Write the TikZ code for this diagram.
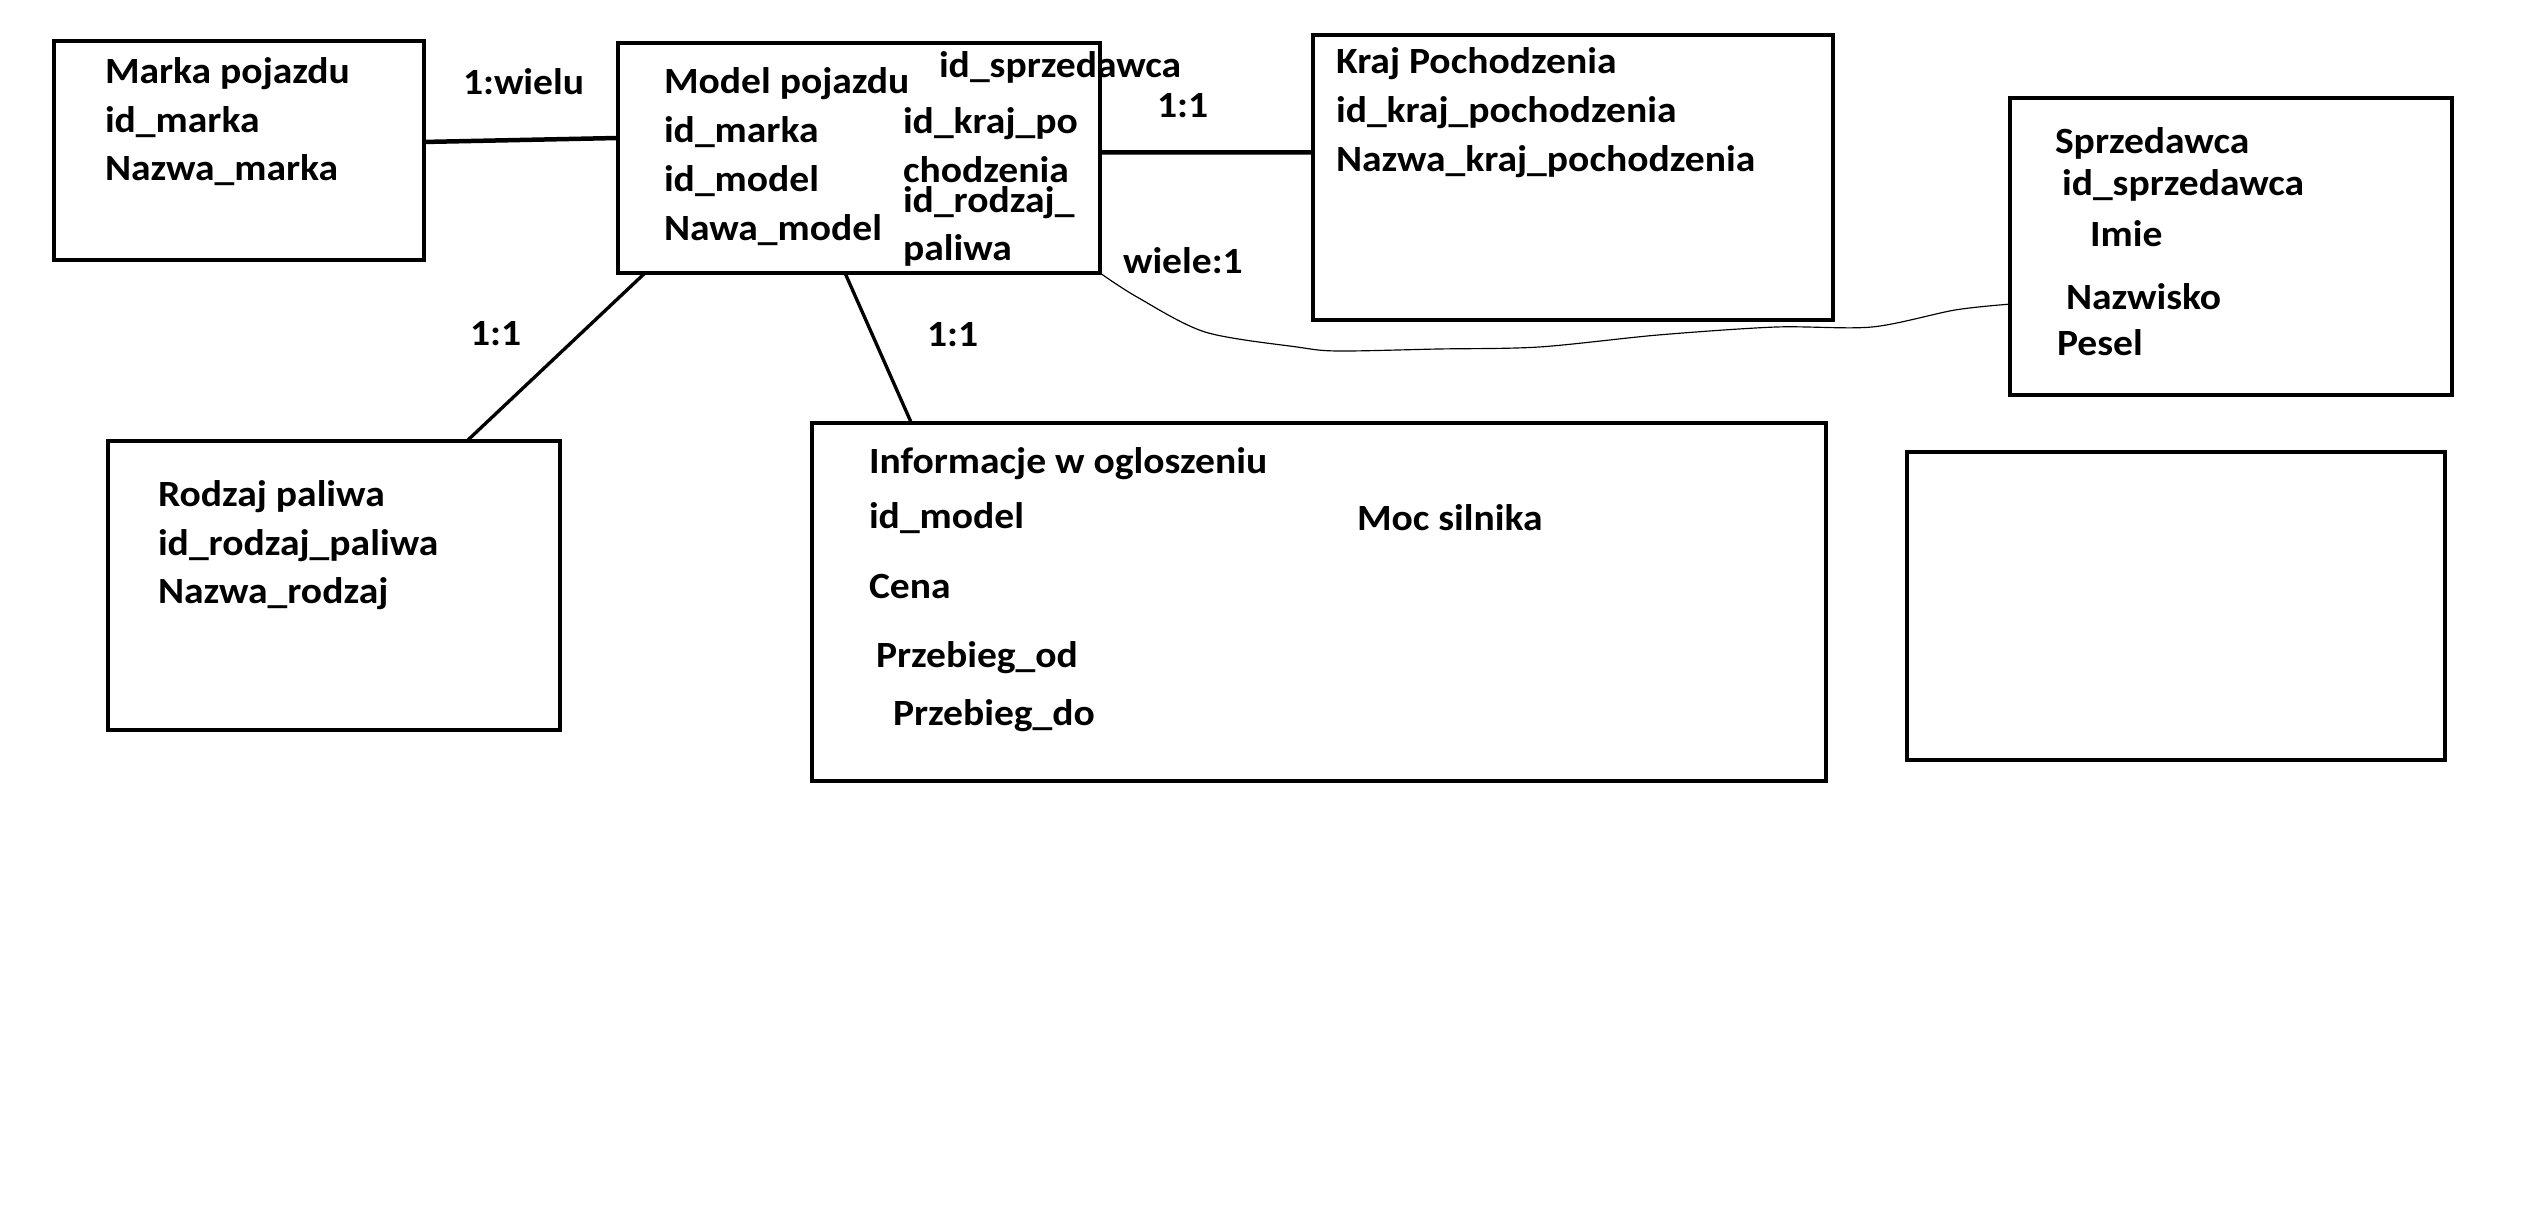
\documentclass[tikz,border=0pt]{standalone}
\usepackage{fontspec}
\setmainfont{Carlito}[FakeStretch=1.07]
\usetikzlibrary{calc}
\newcommand\pxu{0.3pt}
\tikzset{
  box/.style={draw, line width=1.35pt, rectangle, inner sep=0pt, outer sep=0pt},
  txt/.style={anchor=base west, inner sep=0pt, outer sep=0pt, font=\fontsize{11.1pt}{13pt}\selectfont\bfseries},
  heavy/.style={line width=1.35pt},
  medium/.style={line width=1pt},
  fine/.style={line width=0.35pt},
}
\begin{document}
\begin{tikzpicture}[x=0.3pt, y=-0.3pt]
\useasboundingbox (0,0) rectangle (2533,1209);
% boxes
\node[box, minimum width=370*\pxu, minimum height=219*\pxu] (marka) at (239,150.5) {};
\node[box, minimum width=482*\pxu, minimum height=230*\pxu] (model) at (859,158) {};
\node[box, minimum width=520*\pxu, minimum height=285*\pxu] (kraj) at (1573,177.5) {};
\node[box, minimum width=442*\pxu, minimum height=297*\pxu] (sprz) at (2231,246.5) {};
\node[box, minimum width=452*\pxu, minimum height=289*\pxu] (rodzaj) at (334,585.5) {};
\node[box, minimum width=1014*\pxu, minimum height=358*\pxu] (info) at (1319,602) {};
\node[box, minimum width=538*\pxu, minimum height=308*\pxu] (empty) at (2176,606) {};
% Marka
\node[txt] (m1) at (105,83) {Marka pojazdu};
\node[txt] (m2) at (105,132) {id\_marka};
\node[txt] (m3) at (105,180) {Nazwa\_marka};
% Model
\node[txt] (d1) at (664,93) {Model pojazdu};
\node[txt] (d2) at (664,142) {id\_marka};
\node[txt] (d3) at (664,191) {id\_model};
\node[txt] (d4) at (664,240) {Nawa\_model};
\node[txt] (d5) at (939,77) {id\_sprzedawca};
\node[txt] (d6) at (903,133) {id\_kraj\_po};
\node[txt] (d7) at (903,182) {chodzenia};
\node[txt] (d8) at (903,212) {id\_rodzaj\_};
\node[txt] (d9) at (903,260) {paliwa};
% Kraj
\node[txt] (k1) at (1336,73) {Kraj Pochodzenia};
\node[txt] (k2) at (1336,122) {id\_kraj\_pochodzenia};
\node[txt] (k3) at (1336,171) {Nazwa\_kraj\_pochodzenia};
% Sprzedawca
\node[txt] (s1) at (2055,153) {Sprzedawca};
\node[txt] (s2) at (2062,195) {id\_sprzedawca};
\node[txt] (s3) at (2090,246) {Imie};
\node[txt] (s4) at (2066,309) {Nazwisko};
\node[txt] (s5) at (2057,355) {Pesel};
% Rodzaj
\node[txt] (r1) at (158,506) {Rodzaj paliwa};
\node[txt] (r2) at (158,555) {id\_rodzaj\_paliwa};
\node[txt] (r3) at (158,603) {Nazwa\_rodzaj};
% Info
\node[txt] (i1) at (869,473) {Informacje w ogloszeniu};
\node[txt] (i2) at (869,528) {id\_model};
\node[txt] (i3) at (1357,530) {Moc silnika};
\node[txt] (i4) at (869,598) {Cena};
\node[txt] (i5) at (876,667) {Przebieg\_od};
\node[txt] (i6) at (893,725) {Przebieg\_do};
% relation labels
\node[txt] (l1) at (463,94) {1:wielu};
\node[txt] (l2) at (1157,117) {1:1};
\node[txt] (l3) at (1123,273) {wiele:1};
\node[txt] (l4) at (470,345) {1:1};
\node[txt] (l5) at (927,346) {1:1};
% connectors
\draw[heavy] ($(marka.north east)!0.461!(marka.south east)$) -- ($(model.north west)!0.413!(model.south west)$);
\draw[heavy] ($(model.north east)!0.476!(model.south east)$) -- ($(kraj.north west)!0.412!(kraj.south west)$);
\draw[medium] ($(model.south west)!0.056!(model.south east)$) -- ($(rodzaj.north west)!0.794!(rodzaj.north east)$);
\draw[medium] ($(model.south west)!0.471!(model.south east)$) -- ($(info.north west)!0.098!(info.north east)$);
\coordinate (cend) at ($(sprz.north west)!0.694!(sprz.south west)$);
\draw[fine] plot[smooth, tension=0.5] coordinates {(model.south east) (1137,297) (1205,332) (1297,347) (1338,351) (1438,349) (1539,347) (1658,335) (1776,327) (1872,327) (1955,310) (cend)};
\end{tikzpicture}
\end{document}
